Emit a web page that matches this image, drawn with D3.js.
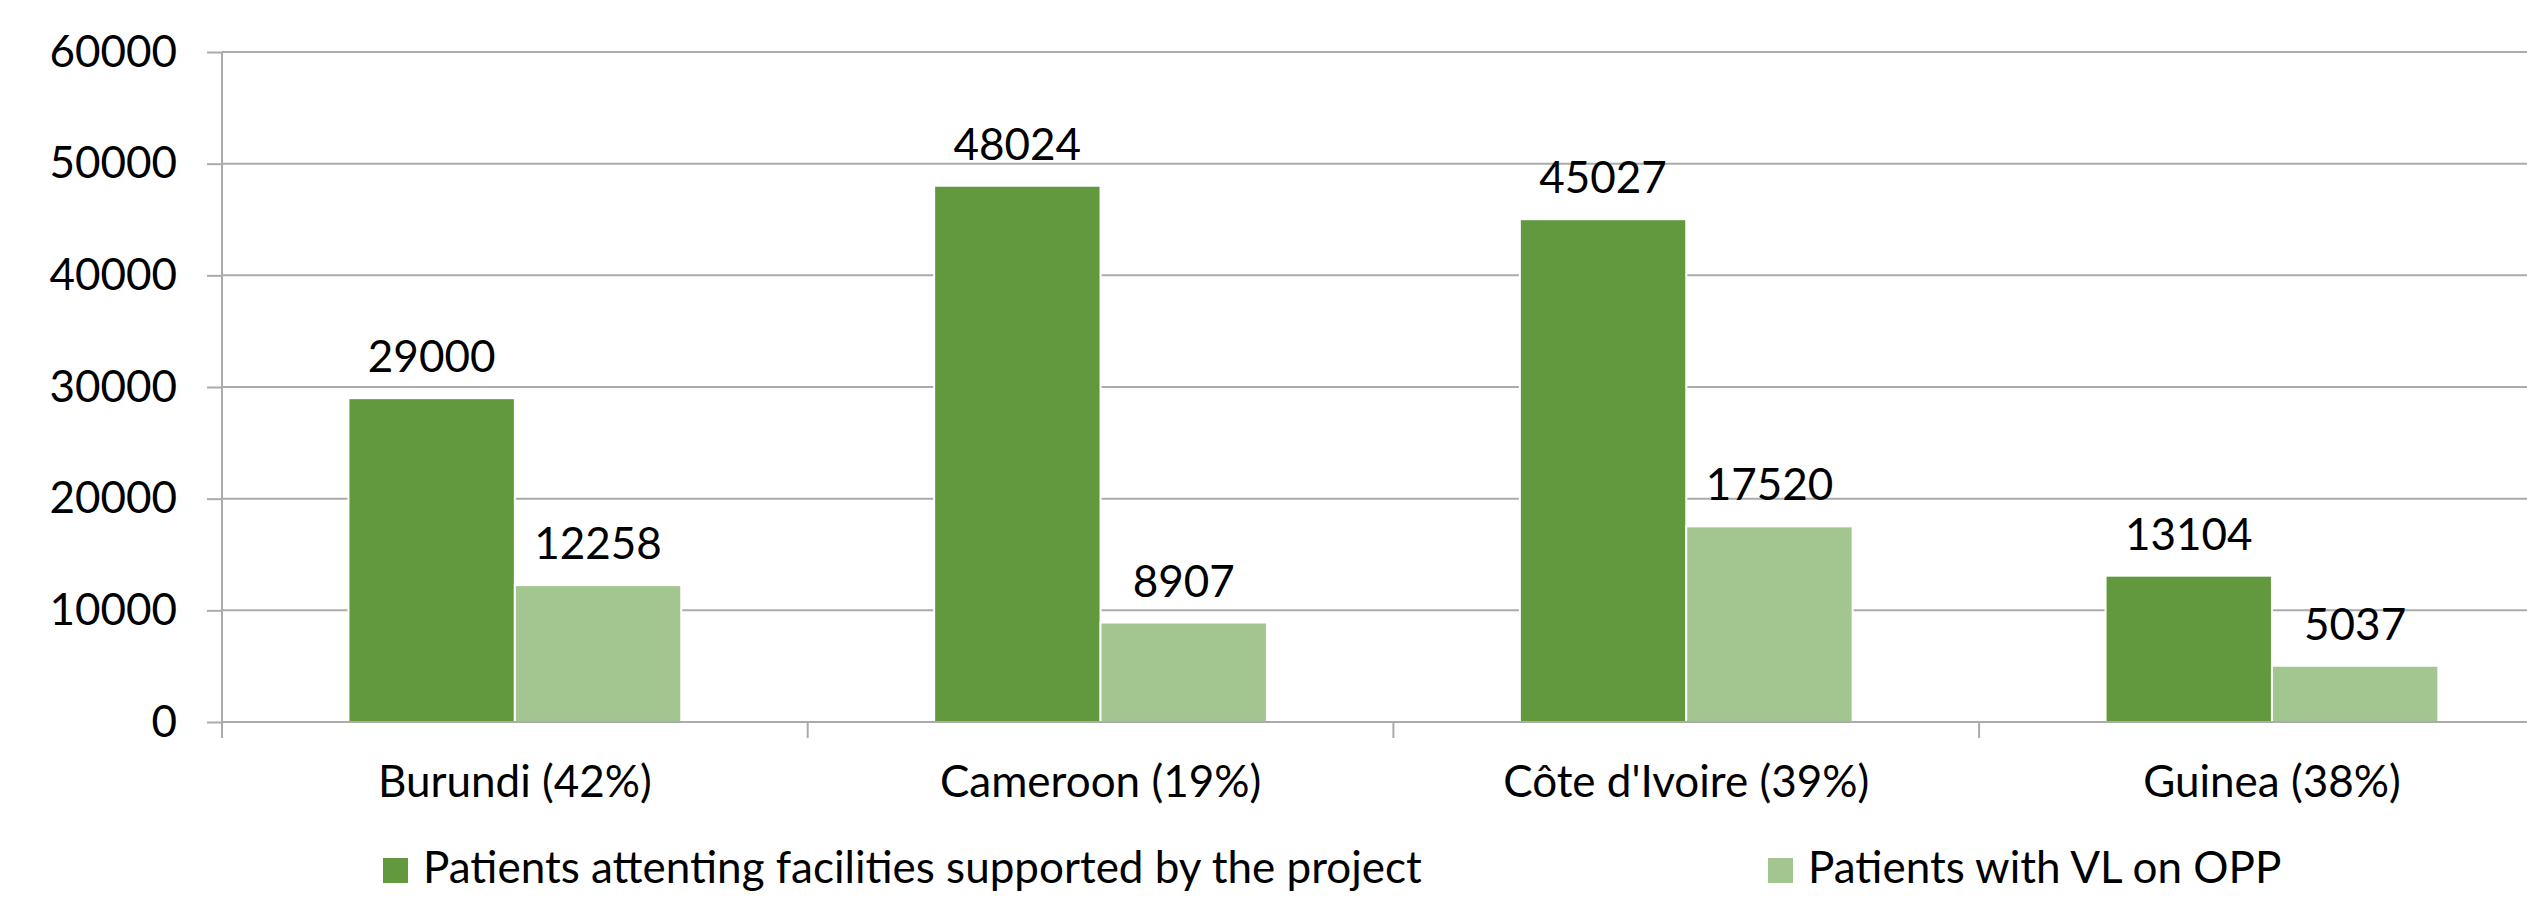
<!DOCTYPE html>
<html>
<meta charset="utf-8">
<head>
<style>
body {
    margin: 0;
    background: #fff;
}
svg text {
    font-family: Lato, "Open Sans", sans-serif;
    fill: #000;
}
.grid line {
    stroke: #ababab;
    stroke-width: 2;
}
.axis path,
.axis line {
    fill: none;
    stroke: #ababab;
    stroke-width: 2;
}
</style>
<script src="https://d3js.org/d3.v7.min.js"></script>
</head>
<body>
<script type="text/javascript">
    // data
    var categories = ["Burundi (42%)", "Cameroon (19%)", "Côte d'Ivoire (39%)", "Guinea (38%)"];
    var seriesNames = ["Patients attenting facilities supported by the project", "Patients with VL on OPP"];
    var attending = [29000, 48024, 45027, 13104];
    var withVL = [12258, 8907, 17520, 5037];
    var yTicks = [0, 10000, 20000, 30000, 40000, 50000, 60000];
    var colors = ["#62993e", "#a3c590"];

    var width = 2527, height = 903;
    var margin = {top: 52, left: 222, bottom: 181};
    var plotBottom = height - margin.bottom;
    var bandStep = 585.7;
    var fontSize = "44px";

    var svg = d3.select("body")
        .append("svg")
            .attr("width", width)
            .attr("height", height);

    var x = d3.scaleBand()
        .domain(categories)
        .range([margin.left, margin.left + bandStep * categories.length])
        .padding(0);

    var x1 = d3.scaleBand()
        .domain(seriesNames)
        .range([0, x.bandwidth()])
        .paddingInner(0)
        .paddingOuter(0.76);

    var y = d3.scaleLinear()
        .domain([0, 60000])
        .range([plotBottom, margin.top]);

    // gridlines
    svg.append("g")
        .attr("class", "grid")
        .selectAll("line")
        .data(yTicks)
      .enter().append("line")
        .attr("x1", margin.left)
        .attr("x2", width)
        .attr("y1", function(d) { return y(d); })
        .attr("y2", function(d) { return y(d); });

    // y axis
    var yAxis = d3.axisLeft(y)
        .tickValues(yTicks)
        .tickSize(15)
        .tickPadding(30)
        .tickFormat(d3.format("d"));

    var gy = svg.append("g")
        .attr("class", "axis")
        .attr("transform", "translate(" + margin.left + ",0)")
        .call(yAxis);
    gy.select(".domain").remove();
    gy.selectAll("text").style("font-size", fontSize);

    svg.append("line")
        .attr("x1", margin.left).attr("x2", margin.left)
        .attr("y1", margin.top).attr("y2", plotBottom + 16)
        .attr("stroke", "#ababab").attr("stroke-width", 2);

    // bars
    var rows = categories.map(function(c, i) {
        return {cat: c, values: [attending[i], withVL[i]]};
    });

    var groups = svg.selectAll(".cat")
        .data(rows)
      .enter().append("g")
        .attr("class", "cat")
        .attr("transform", function(d) { return "translate(" + x(d.cat) + ",0)"; });

    groups.selectAll("rect")
        .data(function(d) { return d.values.map(function(v, j) { return {s: seriesNames[j], v: v, j: j}; }); })
      .enter().append("rect")
        .attr("x", function(d) { return x1(d.s); })
        .attr("y", function(d) { return y(d.v); })
        .attr("width", x1.bandwidth())
        .attr("height", function(d) { return y(0) - y(d.v); })
        .attr("fill", function(d) { return colors[d.j]; })
        .attr("stroke", "#fff")
        .attr("stroke-width", 2);

    groups.selectAll(".val")
        .data(function(d) { return d.values.map(function(v, j) { return {s: seriesNames[j], v: v}; }); })
      .enter().append("text")
        .attr("class", "val")
        .attr("text-anchor", "middle")
        .attr("x", function(d) { return x1(d.s) + x1.bandwidth() / 2; })
        .attr("y", function(d) { return y(d.v) - 26; })
        .style("font-size", fontSize)
        .text(function(d) { return d.v; });

    // x axis
    var xAxis = d3.axisBottom(x)
        .tickSize(0)
        .tickPadding(44);

    var gx = svg.append("g")
        .attr("class", "axis")
        .attr("transform", "translate(0," + plotBottom + ")")
        .call(xAxis);
    gx.select(".domain").remove();
    gx.selectAll("text").style("font-size", fontSize);

    svg.append("line")
        .attr("x1", margin.left).attr("x2", width)
        .attr("y1", plotBottom).attr("y2", plotBottom)
        .attr("stroke", "#ababab").attr("stroke-width", 2);

    svg.append("g")
        .selectAll("line")
        .data(categories.slice(1))
      .enter().append("line")
        .attr("x1", function(d) { return x(d); })
        .attr("x2", function(d) { return x(d); })
        .attr("y1", plotBottom)
        .attr("y2", plotBottom + 16)
        .attr("stroke", "#ababab")
        .attr("stroke-width", 2);

    // legend
    var legendX = [383, 1768];
    var legend = svg.selectAll(".legend")
        .data(seriesNames)
      .enter().append("g")
        .attr("class", "legend")
        .attr("transform", function(d, i) { return "translate(" + legendX[i] + ",858)"; });

    legend.append("rect")
        .attr("width", 25)
        .attr("height", 25)
        .attr("fill", function(d, i) { return colors[i]; });

    legend.append("text")
        .attr("x", 40)
        .attr("y", 25)
        .style("font-size", fontSize)
        .text(function(d) { return d; });
</script>
</body>
</html>
